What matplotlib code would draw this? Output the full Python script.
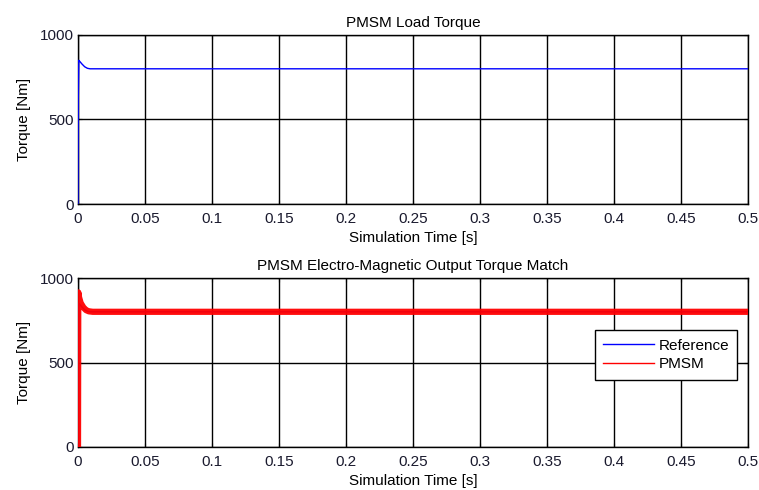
import matplotlib
matplotlib.use("Agg")
import matplotlib.pyplot as plt

plt.rcParams["font.family"] = ["Liberation Sans", "DejaVu Sans"]
plt.rcParams["font.size"] = 11

# Load torque reference (top plot)
t_ref = [0, 0.0002, 0.0006, 0.0015, 0.003, 0.005, 0.007, 0.009, 0.5]
tq_ref = [0, 620, 850, 842, 828, 812, 803, 800, 800]

# PMSM electro-magnetic torque (bottom plot)
t_pmsm = [0, 0.0002, 0.0008, 0.002, 0.004, 0.006, 0.008, 0.011, 0.5]
tq_pmsm = [0, 915, 885, 852, 826, 810, 803, 800, 800]

xticks = [0, 0.05, 0.1, 0.15, 0.2, 0.25, 0.3, 0.35, 0.4, 0.45, 0.5]
xtick_labels = ["0", "0.05", "0.1", "0.15", "0.2", "0.25", "0.3", "0.35", "0.4", "0.45", "0.5"]
yticks = [0, 500, 1000]

fig = plt.figure(figsize=(7.59, 4.90), dpi=100, facecolor="white")
W, H = 759, 490
ax1 = fig.add_axes([78 / W, 1 - 204 / H, 670 / W, 169 / H])
ax2 = fig.add_axes([78 / W, 1 - 447 / H, 670 / W, 169 / H])


def style(ax, title):
    ax.set_xlim(0, 0.5)
    ax.set_ylim(0, 1000)
    ax.set_xticks(xticks)
    ax.set_xticklabels(xtick_labels)
    ax.set_yticks(yticks)
    ax.grid(True, color="black", linestyle="-", linewidth=1.0)
    ax.set_axisbelow(False)
    ax.tick_params(direction="in", top=True, right=True, length=3,
                   labelsize=11, colors="black", labelcolor="#1a1a2e")
    ax.tick_params(axis="x", pad=5.5)
    ax.tick_params(axis="y", pad=3)
    for s in ax.spines.values():
        s.set_linewidth(1.0)
    ax.set_title(title, fontsize=11, pad=6)
    ax.set_xlabel("Simulation Time [s]", fontsize=11, labelpad=4)
    ax.set_ylabel("Torque [Nm]", fontsize=11, labelpad=6.5)


ax1.plot(t_ref, tq_ref, color="blue", linewidth=1.0, zorder=3)
style(ax1, "PMSM Load Torque")

ax2.plot(t_ref, tq_ref, color="blue", linewidth=1.0, zorder=3, label="Reference")
ax2.plot(t_pmsm, tq_pmsm, color="red", linewidth=4.5, alpha=0.95, zorder=4,
         solid_capstyle="butt")
ax2.plot([], [], color="red", linewidth=1.0, label="PMSM")
style(ax2, "PMSM Electro-Magnetic Output Torque Match")

leg = ax2.legend(loc="center right", bbox_to_anchor=(0.984, 0.545), fontsize=11,
                 fancybox=False, framealpha=1, edgecolor="black",
                 handlelength=3.3, borderpad=0.55, labelspacing=0.3,
                 handletextpad=0.3, borderaxespad=0)
leg.get_frame().set_linewidth(1.0)
leg.set_zorder(10)

fig.savefig("out.png", dpi=100, facecolor="white")
